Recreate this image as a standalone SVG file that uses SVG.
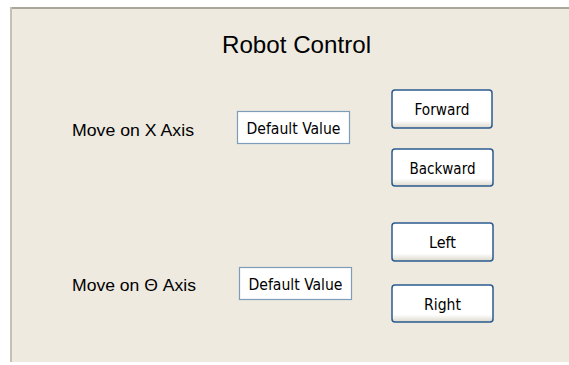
<svg xmlns="http://www.w3.org/2000/svg" width="569" height="365" viewBox="0 0 569 365">
<style>
.lbl{font-family:"Liberation Sans",Arial,sans-serif;fill:#000}
.btn rect{fill:url(#bg);stroke:#2b5b8e;stroke-width:1.5}
.btn text,.fld text{font-family:"DejaVu Sans Condensed","DejaVu Sans","Liberation Sans",sans-serif;font-stretch:condensed;font-size:15.5px;fill:#000;text-anchor:middle}
.fld rect{fill:#fff;stroke:#7f9db9;stroke-width:1.2}
</style>
<defs>
<linearGradient id="bg" x1="0" y1="0" x2="0" y2="1">
<stop offset="0" stop-color="#fff"/>
<stop offset="0.8" stop-color="#fff"/>
<stop offset="1" stop-color="#dcd8cc"/>
</linearGradient>
</defs>
<rect x="0" y="0" width="569" height="365" fill="#fff"/>
<g id="panel">
<rect x="10" y="7" width="559" height="355" fill="#eeeae0"/>
<rect x="10" y="7" width="559" height="2" fill="#a9a79c"/>
<rect x="10" y="7" width="2" height="355" fill="#c4c0b4"/>
</g>
<g id="title"><text class="lbl" x="296.5" y="53" font-size="24" text-anchor="middle" textLength="149" lengthAdjust="spacingAndGlyphs">Robot Control</text></g>
<g id="labelX"><text class="lbl" x="72" y="136" font-size="17" textLength="122" lengthAdjust="spacingAndGlyphs">Move on X Axis</text></g>
<g id="labelT"><text class="lbl" x="72" y="291" font-size="17" textLength="124" lengthAdjust="spacingAndGlyphs">Move on Θ Axis</text></g>
<g id="fieldX" class="fld"><rect x="237.5" y="111.5" width="112" height="32"/><text x="293.5" y="133.5" textLength="94" lengthAdjust="spacingAndGlyphs">Default Value</text></g>
<g id="fieldT" class="fld"><rect x="239.5" y="267.5" width="112" height="32"/><text x="295.5" y="289.5" textLength="94" lengthAdjust="spacingAndGlyphs">Default Value</text></g>
<g id="btnForward" class="btn"><rect x="392" y="90" width="100" height="38" rx="3"/><text x="442" y="115" textLength="55" lengthAdjust="spacingAndGlyphs">Forward</text></g>
<g id="btnBackward" class="btn"><rect x="392" y="149" width="101" height="37" rx="3"/><text x="442.5" y="174" textLength="66" lengthAdjust="spacingAndGlyphs">Backward</text></g>
<g id="btnLeft" class="btn"><rect x="392" y="223" width="101" height="38" rx="3"/><text x="442.5" y="248" textLength="27" lengthAdjust="spacingAndGlyphs">Left</text></g>
<g id="btnRight" class="btn"><rect x="392" y="285" width="101" height="37" rx="3"/><text x="442.5" y="310" textLength="37" lengthAdjust="spacingAndGlyphs">Right</text></g>
<g id="connectors"/>
</svg>
